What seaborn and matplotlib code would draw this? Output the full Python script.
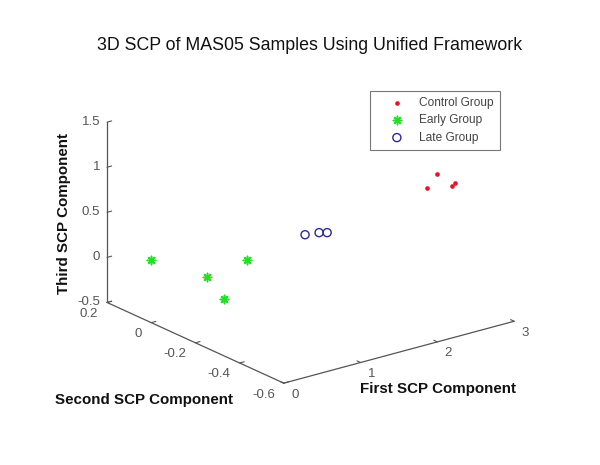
import numpy as np
import pandas as pd
import seaborn as sns
import matplotlib
matplotlib.use("Agg")
import matplotlib.pyplot as plt
from mpl_toolkits.mplot3d import proj3d

# ---- data ----
control_x = [2.631, 2.385, 2.768, 2.779]
control_y = [-0.38, -0.42, -0.40, -0.41]
control_z = [0.969, 0.914, 0.827, 0.870]

early_x = [0.285, 0.439, 0.372, 0.816]
early_y = [0.10, -0.10, -0.20, -0.15]
early_z = [0.015, 0.016, -0.101, 0.176]

late_x = [1.428, 1.467, 1.658]
late_y = [-0.20, -0.25, -0.22]
late_z = [0.372, 0.442, 0.365]

x_ticks = [0, 1, 2, 3]
y_ticks = [-0.6, -0.4, -0.2, 0, 0.2]
z_ticks = [-0.5, 0, 0.5, 1, 1.5]
x_tick_labels = ["0", "1", "2", "3"]
y_tick_labels = ["-0.6", "-0.4", "-0.2", "0", "0.2"]
z_tick_labels = ["-0.5", "0", "0.5", "1", "1.5"]

df = pd.concat([
    pd.DataFrame({"x": control_x, "y": control_y, "z": control_z, "group": "Control Group"}),
    pd.DataFrame({"x": early_x, "y": early_y, "z": early_z, "group": "Early Group"}),
    pd.DataFrame({"x": late_x, "y": late_y, "z": late_z, "group": "Late Group"}),
])

sns.set_style("white")
plt.rcParams["font.family"] = ["Liberation Sans", "DejaVu Sans"]

W, H = 600, 465
fig = plt.figure(figsize=(W / 100, H / 100), dpi=100)
ax = fig.add_axes([0.1, 0.1, 0.8, 0.8], projection="3d")
ax.set_proj_type("ortho")
ax.view_init(elev=20.5, azim=-127.5)
ax.set_box_aspect((1, 1, 0.663))

styles = {
    "Control Group": dict(marker="o", s=11, color="#e8102a", linewidths=0),
    "Early Group": dict(marker=(8, 2, 0), s=36, color="#22e022", linewidths=1.1),
    "Late Group": dict(marker="o", s=34, facecolors="none", edgecolors="#2a2a9c", linewidths=1.0),
}
for g, sub in df.groupby("group", sort=False):
    ax.scatter(sub["x"], sub["y"], sub["z"], label=g, depthshade=False, **styles[g])

ax.set_xlim(0, 3)
ax.set_ylim(-0.6, 0.2)
ax.set_zlim(-0.5, 1.5)
ax.set_xticks(x_ticks, [""] * len(x_ticks))
ax.set_yticks(y_ticks, [""] * len(y_ticks))
ax.set_zticks(z_ticks, [""] * len(z_ticks))
ax.grid(False)
for axis in (ax.xaxis, ax.yaxis, ax.zaxis):
    axis.set_pane_color((1, 1, 1, 0))
    axis.pane.set_edgecolor((1, 1, 1, 0))
    axis.line.set_color("#555555")
    axis.line.set_linewidth(0.9)
    axis._axinfo["tick"]["color"] = "#555555"
    axis._axinfo["tick"]["inward_factor"] = -0.25
    axis._axinfo["tick"]["outward_factor"] = 0.0
ax.tick_params(colors="#555555")

# fit the projected box onto the reference pixel positions
corners = [(0, -0.6, -0.5), (3, -0.6, -0.5), (0, 0.2, -0.5), (0, 0.2, 1.5)]
targets = np.array([(284, H - 383), (514, H - 322), (107, H - 302), (107, H - 122)], float)


def to_px(px, py, pz):
    M = ax.get_proj()
    X, Y, _ = proj3d.proj_transform(px, py, pz, M)
    return ax.transData.transform((X, Y))


def corner_px():
    fig.canvas.draw()
    return np.array([to_px(*c) for c in corners])


for _ in range(3):
    p = corner_px()
    pm, tm = p.mean(0), targets.mean(0)
    s = np.sum((targets - tm) * (p - pm)) / np.sum((p - pm) ** 2)
    bb = ax.get_position()
    x0, y0 = bb.x0 * W, bb.y0 * H
    x1, y1 = bb.x1 * W, bb.y1 * H
    nx0, ny0 = s * (x0 - pm[0]) + tm[0], s * (y0 - pm[1]) + tm[1]
    nx1, ny1 = s * (x1 - pm[0]) + tm[0], s * (y1 - pm[1]) + tm[1]
    ax.set_position([nx0 / W, ny0 / H, (nx1 - nx0) / W, (ny1 - ny0) / H])
fig.canvas.draw()

# tick labels placed next to the projected tick positions
tick_kw = dict(fontsize=9.5, color="#555555")
for v, lab in zip(z_ticks, z_tick_labels):
    px, py = to_px(0, 0.2, v)
    fig.text((px - 7) / W, py / H, lab, ha="right", va="center", **tick_kw)
for v, lab in zip(y_ticks, y_tick_labels):
    px, py = to_px(0, v, -0.5)
    fig.text((px - 9) / W, (py - 11.5) / H, lab, ha="right", va="center", **tick_kw)
for v, lab in zip(x_ticks, x_tick_labels):
    px, py = to_px(v, -0.6, -0.5)
    fig.text((px + 11) / W, (py - 11.5) / H, lab, ha="center", va="center", **tick_kw)

fig.text(310 / W, 1 - 45 / H, "3D SCP of MAS05 Samples Using Unified Framework",
         ha="center", va="center", fontsize=12.8, color="#111111")
lab_kw = dict(fontsize=10.9, fontweight="bold", color="#111111", ha="center", va="center")
fig.text(64 / W, 1 - 213 / H, "Third SCP Component", rotation=90, **lab_kw)
fig.text(144 / W, 1 - 400 / H, "Second SCP Component", **lab_kw)
fig.text(438 / W, 1 - 389 / H, "First SCP Component", **lab_kw)

leg = ax.legend(loc="upper left", bbox_to_anchor=(370 / W, 1 - 91 / H), bbox_transform=fig.transFigure,
                frameon=True, fancybox=False, edgecolor="#555555", fontsize=8.6,
                handlelength=3.5, handletextpad=0.1, borderpad=0.5, labelspacing=0.45,
                borderaxespad=0)
for t in leg.get_texts():
    t.set_color("#444444")
leg.get_frame().set_linewidth(0.8)

fig.savefig("out.png", dpi=100, facecolor="white")
